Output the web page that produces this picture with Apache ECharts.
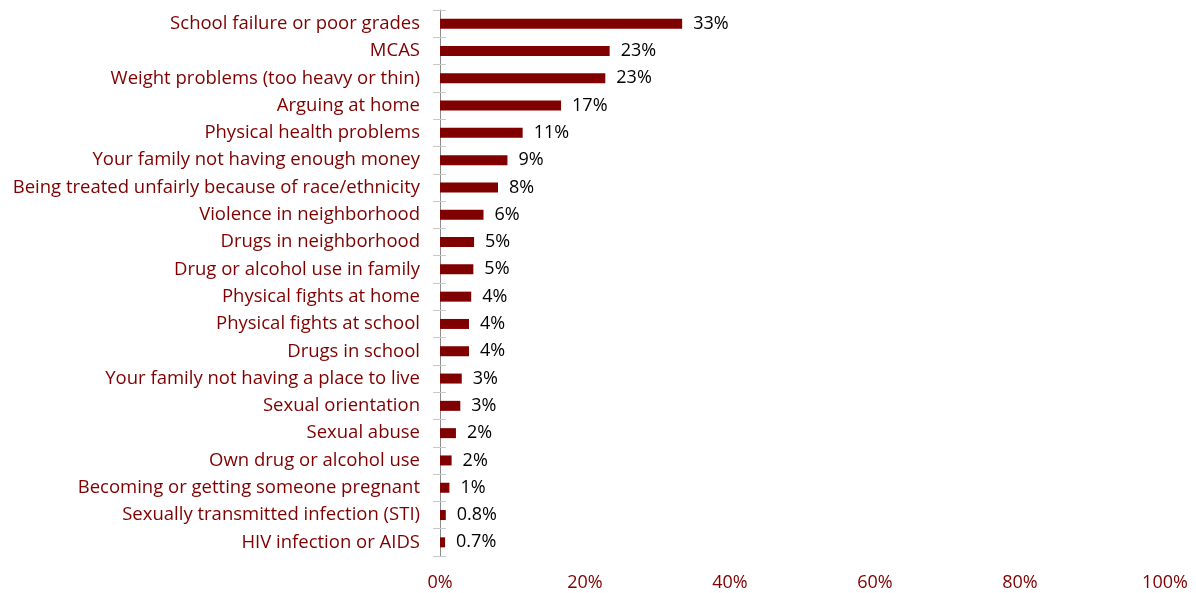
<!DOCTYPE html>
<html><head><meta charset="utf-8">
<script src="https://cdn.jsdelivr.net/npm/echarts@6/dist/echarts.min.js"></script>
<style>html,body{margin:0;padding:0;background:#fff}#c{width:1196px;height:593px}</style>
</head><body><div id="c"></div>
<script>
const categories = [
  "School failure or poor grades",
  "MCAS",
  "Weight problems (too heavy or thin)",
  "Arguing at home",
  "Physical health problems",
  "Your family not having enough money",
  "Being treated unfairly because of race/ethnicity",
  "Violence in neighborhood",
  "Drugs in neighborhood",
  "Drug or alcohol use in family",
  "Physical fights at home",
  "Physical fights at school",
  "Drugs in school",
  "Your family not having a place to live",
  "Sexual orientation",
  "Sexual abuse",
  "Own drug or alcohol use",
  "Becoming or getting someone pregnant",
  "Sexually transmitted infection (STI)",
  "HIV infection or AIDS"
];
const values = [33.4, 23.4, 22.8, 16.7, 11.4, 9.3, 8.0, 6.0, 4.7, 4.6, 4.3, 4.0, 4.0, 3.0, 2.8, 2.2, 1.6, 1.3, 0.8, 0.7];
const valueLabels = ["33%","23%","23%","17%","11%","9%","8%","6%","5%","5%","4%","4%","4%","3%","3%","2%","2%","1%","0.8%","0.7%"];
const tickLabels = ["0%","20%","40%","60%","80%","100%"];

const chart = echarts.init(document.getElementById('c'));
const font = '"Open Sans", sans-serif';
chart.setOption({
  animation: false,
  grid: {left: 440, right: 31, top: 10, bottom: 37, containLabel: false},
  xAxis: {
    type: 'value', min: 0, max: 100, interval: 20,
    axisLine: {show: false}, axisTick: {show: false}, splitLine: {show: false},
    axisLabel: {
      margin: 18, color: '#7f0000', fontFamily: font, fontSize: 18,
      formatter: (v) => tickLabels[Math.round(v / 20)]
    }
  },
  yAxis: [{
    type: 'category', inverse: true, data: categories,
    axisLine: {show: true, lineStyle: {color: '#8c8c8c', width: 1}},
    axisTick: {show: true, length: 7, lineStyle: {color: '#c8c8c8'}},
    axisLabel: {margin: 20, color: '#7f0000', fontFamily: font, fontSize: 18.5}
  }, {
    type: 'category', inverse: true, data: categories, position: 'left',
    axisLine: {show: false},
    axisTick: {show: true, inside: true, length: 6, lineStyle: {color: '#c8c8c8'}},
    axisLabel: {show: false}
  }],
  series: [{
    type: 'bar', data: values, barWidth: 10,
    itemStyle: {color: '#800000'},
    label: {
      show: true, position: 'right', distance: 11, color: '#000',
      fontFamily: font, fontSize: 18,
      formatter: (p) => valueLabels[p.dataIndex]
    }
  }]
});
</script></body></html>
